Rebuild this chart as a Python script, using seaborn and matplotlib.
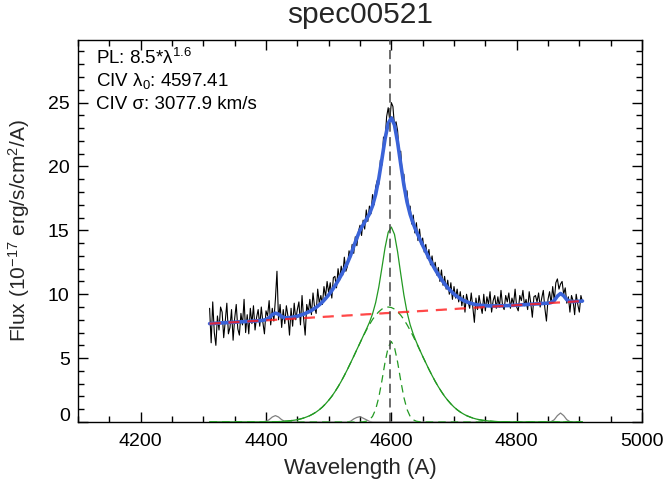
import numpy as np
import matplotlib
matplotlib.use("Agg")
import matplotlib.pyplot as plt
from matplotlib.ticker import MultipleLocator, FuncFormatter
import seaborn as sns

# ---------------- data ----------------
title = "spec00521"
spec_start = 4310.0
spec_step = 2.5
flux = [
    8.9, 6.2, 9.4, 7.0, 6.0, 8.3, 7.2, 9.0,
    8.6, 6.6, 7.9, 9.3, 6.9, 7.4, 8.8, 6.4,
    8.1, 9.2, 7.3, 6.8, 8.5, 7.6, 9.6, 7.0,
    8.4, 6.9, 8.9, 7.7, 9.1, 7.2, 8.2, 8.8,
    7.5, 9.0, 7.8, 6.9, 8.7, 8.3, 9.5, 7.6,
    8.9, 7.9, 9.6, 11.8, 8.0, 9.2, 7.4, 8.8,
    7.7, 9.1, 8.3, 6.8, 8.9, 7.5, 9.3, 8.0,
    8.8, 9.4, 7.6, 9.9, 8.1, 6.8, 9.2, 8.6,
    9.6, 8.4, 10.1, 9.0, 8.5, 10.4, 9.3, 9.9,
    9.2, 10.6, 9.8, 11.0, 10.1, 10.9, 9.7, 11.3,
    11.4, 10.5, 12.0, 11.1, 12.2, 11.5, 12.9, 11.8,
    12.2, 13.4, 12.9, 13.9, 13.2, 14.5, 13.8, 14.9,
    15.4, 14.6, 15.8, 15.1, 16.6, 15.7, 16.9, 16.3,
    17.8, 17.0, 18.4, 18.9, 18.6, 20.5, 20.1, 22.3,
    22.1, 23.9, 24.6, 23.6, 25.0, 24.7, 23.2, 23.5,
    22.8, 21.0, 21.2, 19.2, 19.4, 17.6, 18.1, 16.6,
    16.9, 15.5, 16.2, 14.8, 15.6, 14.2, 15.1, 13.9,
    14.4, 13.3, 13.9, 12.8, 13.5, 12.3, 13.0, 12.0,
    12.5, 11.5, 12.1, 11.0, 11.9, 10.7, 11.4, 10.4,
    11.1, 10.0, 10.9, 9.6, 10.6, 9.7, 10.4, 9.4,
    10.2, 9.1, 9.9, 8.6, 10.0, 9.4, 8.9, 10.1,
    9.0, 7.8, 9.7, 8.8, 9.9, 9.1, 8.5, 10.0,
    8.7, 9.8, 9.2, 10.2, 8.6, 9.5, 9.9, 8.9,
    9.8, 9.0, 10.3, 9.1, 8.8, 9.9, 9.4, 10.1,
    8.9, 9.7, 9.2, 10.4, 9.0, 8.7, 9.9, 9.5,
    10.3, 9.1, 9.6, 8.8, 10.2, 9.3, 8.2, 9.8,
    9.9, 9.4, 10.1, 9.0, 9.7, 10.3, 8.9, 7.9,
    9.6, 10.2, 9.3, 10.6, 9.5, 10.9, 11.2, 10.4,
    10.8, 11.0, 10.0, 10.5, 9.3, 9.8, 8.6, 9.9,
    9.5, 8.4, 10.0, 9.2, 8.6, 9.9, 9.4,
]

model_start = 4310.0
model_step = 5.0
continuum = [
    7.70, 7.71, 7.73, 7.74, 7.76, 7.77, 7.79, 7.80, 7.81, 7.83,
    7.84, 7.86, 7.87, 7.89, 7.90, 7.92, 7.93, 7.94, 7.96, 7.97,
    7.99, 8.00, 8.02, 8.03, 8.05, 8.06, 8.07, 8.09, 8.10, 8.12,
    8.13, 8.15, 8.16, 8.18, 8.19, 8.21, 8.22, 8.24, 8.25, 8.27,
    8.28, 8.29, 8.31, 8.32, 8.34, 8.35, 8.37, 8.38, 8.40, 8.41,
    8.43, 8.44, 8.46, 8.47, 8.49, 8.50, 8.52, 8.53, 8.55, 8.56,
    8.58, 8.59, 8.61, 8.62, 8.63, 8.65, 8.66, 8.68, 8.69, 8.71,
    8.72, 8.74, 8.75, 8.77, 8.78, 8.80, 8.81, 8.83, 8.84, 8.86,
    8.88, 8.89, 8.91, 8.92, 8.94, 8.95, 8.97, 8.98, 9.00, 9.01,
    9.03, 9.04, 9.06, 9.07, 9.09, 9.10, 9.12, 9.13, 9.15, 9.16,
    9.18, 9.19, 9.21, 9.22, 9.24, 9.25, 9.27, 9.29, 9.30, 9.32,
    9.33, 9.35, 9.36, 9.38, 9.39, 9.41, 9.42, 9.44, 9.45, 9.47,
]
civ_broad = (
    [0.0] * 17
    + [0.00, 0.01, 0.01, 0.02, 0.02, 0.03, 0.04, 0.06, 0.08, 0.11,
       0.14, 0.18, 0.24, 0.31, 0.40, 0.50, 0.63, 0.78, 0.96, 1.17,
       1.42, 1.70, 2.01, 2.37, 2.76, 3.18, 3.64, 4.12, 4.63, 5.14,
       5.67, 6.19, 6.70, 7.18, 7.62, 8.02, 8.36, 8.63, 8.84, 8.96,
       9.00,
       8.96, 8.84, 8.63, 8.36, 8.02, 7.62, 7.18, 6.70, 6.19, 5.67,
       5.14, 4.63, 4.12, 3.64, 3.18, 2.76, 2.37, 2.01, 1.70, 1.42,
       1.17, 0.96, 0.78, 0.63, 0.50, 0.40, 0.31, 0.24, 0.18, 0.14,
       0.11, 0.08, 0.06, 0.04, 0.03, 0.02, 0.02, 0.01, 0.01, 0.00]
    + [0.0] * 22
)
civ_narrow = (
    [0.0] * 49
    + [0.02, 0.06, 0.17, 0.44, 0.99, 1.93, 3.24, 4.69, 5.85, 6.30,
       5.85, 4.69, 3.24, 1.93, 0.99, 0.44, 0.17, 0.06, 0.02]
    + [0.0] * 52
)
other_lines = (
    [0.0] * 17
    + [0.02, 0.05, 0.18, 0.39, 0.50, 0.39, 0.18, 0.05, 0.02]
    + [0.0] * 19
    + [0.06, 0.24, 0.36, 0.42, 0.30, 0.18, 0.05]
    + [0.0] * 57
    + [0.03, 0.18, 0.50, 0.70, 0.50, 0.18, 0.03]
    + [0.0] * 4
)
civ_center = 4597.41
info_lines = [
    "PL: 8.5*\u03bb$^{1.6}$",
    "CIV \u03bb$_0$: 4597.41",
    "CIV \u03c3: 3077.9 km/s",
]

# ---------------- derived arrays ----------------
wave = spec_start + spec_step * np.arange(len(flux))
mwave = model_start + model_step * np.arange(len(continuum))
cont = np.array(continuum)
broad = np.array(civ_broad)
narrow = np.array(civ_narrow)
other = np.array(other_lines)
civ_total = broad + narrow
total = cont + broad + narrow + other

# ---------------- style ----------------
sns.set_style("ticks")
plt.rcParams["font.family"] = ["Liberation Sans", "DejaVu Sans"]
plt.rcParams["mathtext.fontset"] = "custom"
plt.rcParams["mathtext.rm"] = "Liberation Sans"
plt.rcParams["mathtext.it"] = "Liberation Sans:italic"
plt.rcParams["mathtext.bf"] = "Liberation Sans:bold"

fig = plt.figure(figsize=(6.65, 4.83), dpi=100)
ax = fig.add_axes([78 / 665, (483 - 422) / 483, 564 / 665, 382 / 483])

sns.lineplot(x=wave, y=flux, ax=ax, color="black", lw=0.8,
             estimator=None, sort=False, zorder=2)
sns.lineplot(x=mwave, y=other, ax=ax, color="#808080", lw=0.9,
             estimator=None, sort=False, zorder=3)
sns.lineplot(x=mwave, y=civ_total, ax=ax, color="#229922", lw=0.9,
             estimator=None, sort=False, zorder=3)
sns.lineplot(x=mwave, y=broad, ax=ax, color="#229922", lw=0.9,
             linestyle=(0, (6, 4)), estimator=None, sort=False, zorder=3)
sns.lineplot(x=mwave, y=narrow, ax=ax, color="#229922", lw=0.9,
             linestyle=(0, (6, 4)), estimator=None, sort=False, zorder=3)
sns.lineplot(x=mwave, y=total, ax=ax, color="#3a63d8", lw=2.6,
             estimator=None, sort=False, zorder=4)
sns.lineplot(x=mwave, y=cont, ax=ax, color="#ff1a1a", lw=1.6, alpha=0.8,
             linestyle=(0, (5, 3.5)), estimator=None, sort=False, zorder=5)
ax.axvline(civ_center, color="#444444", lw=1.1, linestyle=(0, (6, 3.5)),
           zorder=6)

ax.set_xlim(4100, 5000)
ax.set_ylim(0, 29.9)
ax.xaxis.set_major_locator(MultipleLocator(200))
ax.xaxis.set_minor_locator(MultipleLocator(50))
ax.yaxis.set_major_locator(MultipleLocator(5))
ax.yaxis.set_minor_locator(MultipleLocator(1))
ax.yaxis.set_major_formatter(
    FuncFormatter(lambda v, p: "" if abs(v) < 1e-9 else f"{v:g}"))
ax.tick_params(which="both", direction="in", top=True, right=True,
               colors="black", labelsize=14)
ax.tick_params(which="major", length=7, width=1)
ax.tick_params(which="minor", length=4, width=1)
ax.tick_params(axis="x", which="major", pad=8)
ax.tick_params(axis="y", which="major", pad=6)
for s in ax.spines.values():
    s.set_color("black")
    s.set_linewidth(1.0)
    s.set_visible(True)

# "0" label sits on the axis bottom as in the reference
ax.annotate("0", xy=(0, 0), xycoords="axes fraction", xytext=(-6, 0.5),
            textcoords="offset points", ha="right", va="baseline",
            fontsize=14, color="black")

ax.set_xlabel("Wavelength (A)", fontsize=16)
ax.set_ylabel("Flux (10$^{-17}$ erg/s/cm$^{2}$/A)", fontsize=15)
ax.xaxis.set_label_coords(0.5, -0.093)
ax.yaxis.set_label_coords(-0.082, 0.50)
ax.set_title(title, fontsize=21.5, pad=12)

for k, txt in enumerate(info_lines):
    ax.text(0.032, 0.952 - 0.06 * k, txt, transform=ax.transAxes,
            fontsize=13.5, va="center", ha="left", color="black")

fig.savefig("out.png", dpi=100)
